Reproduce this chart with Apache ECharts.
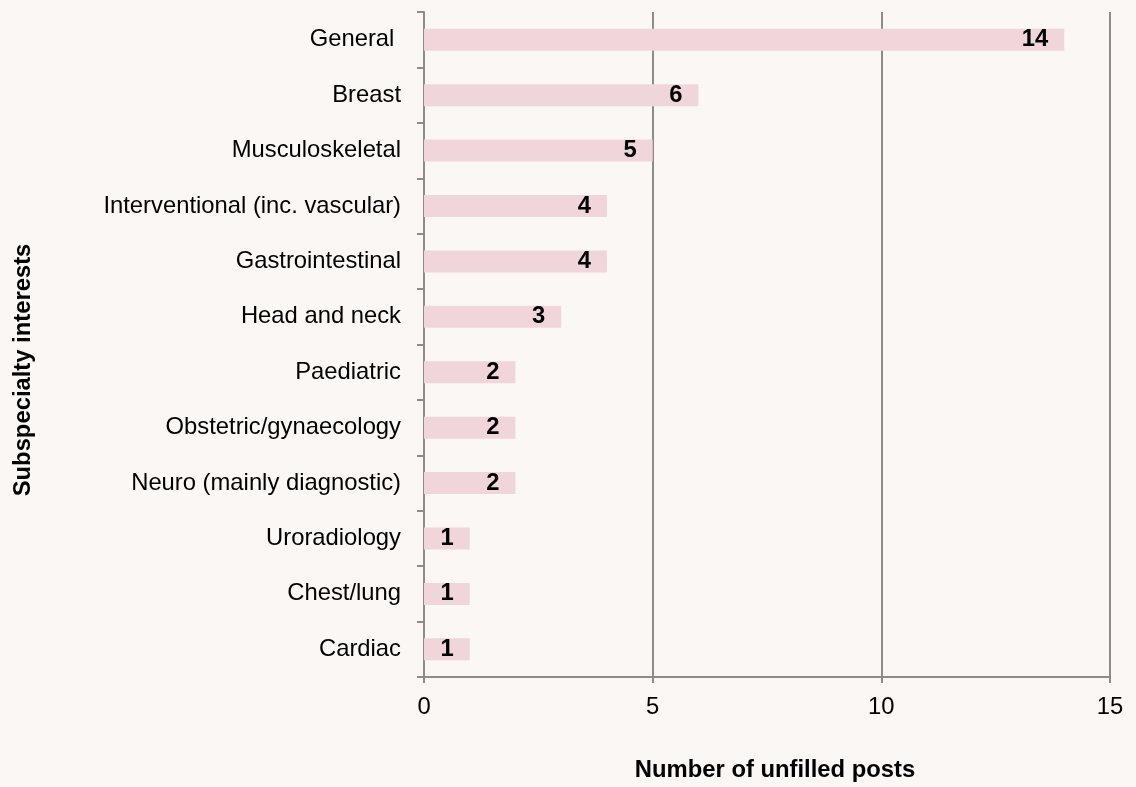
<!DOCTYPE html>
<html>
<head>
<meta charset="utf-8">
<script src="https://cdn.jsdelivr.net/npm/echarts@6/dist/echarts.min.js"></script>
<style>
  html, body { margin: 0; padding: 0; background: #faf7f4; }
  #chart { width: 1136px; height: 787px; }
</style>
</head>
<body>
<div id="chart"></div>
<script>
// Subspecialty categories, listed bottom to top
const categories = [
  'Cardiac', 'Chest/lung', 'Uroradiology', 'Neuro (mainly diagnostic)',
  'Obstetric/gynaecology', 'Paediatric', 'Head and neck', 'Gastrointestinal',
  'Interventional (inc. vascular)', 'Musculoskeletal', 'Breast', 'General '
];
const unfilledPosts = [1, 1, 1, 2, 2, 2, 3, 4, 4, 5, 6, 14];
const xTicks = [0, 5, 10, 15];

const font = 'Liberation Sans, Arial, sans-serif';
const fontSize = 23.8;
const grey = '#8c8c8c';

const chart = echarts.init(document.getElementById('chart'));
chart.setOption({
  backgroundColor: '#faf7f4',
  animation: false,
  grid: { left: 424, right: 26, top: 12, bottom: 109, containLabel: false },
  xAxis: {
    type: 'value',
    min: xTicks[0],
    max: xTicks[xTicks.length - 1],
    interval: 5,
    name: 'Number of unfilled posts',
    nameLocation: 'middle',
    nameGap: 81,
    nameTextStyle: {
      fontFamily: font, fontSize: fontSize, fontWeight: 'bold', color: '#000',
      padding: [0, 0, 0, 16]
    },
    axisLine: { show: true, lineStyle: { color: grey, width: 2 } },
    axisTick: { show: true, length: 6, lineStyle: { color: grey, width: 2 } },
    axisLabel: { fontFamily: font, fontSize: fontSize, color: '#000', margin: 18 },
    splitLine: { show: true, lineStyle: { color: grey, width: 2 } }
  },
  yAxis: {
    type: 'category',
    data: categories,
    axisLine: { show: true, lineStyle: { color: grey, width: 2 } },
    axisTick: { show: true, length: 7, lineStyle: { color: grey, width: 2 } },
    axisLabel: { fontFamily: font, fontSize: fontSize, color: '#000', margin: 23 },
    splitLine: { show: false }
  },
  graphic: [{
    type: 'text',
    x: 23,
    y: 370,
    rotation: Math.PI / 2,
    style: {
      text: 'Subspecialty interests',
      fontFamily: font,
      fontSize: fontSize,
      fontWeight: 'bold',
      fill: '#000',
      align: 'center',
      verticalAlign: 'middle'
    }
  }],
  series: [{
    type: 'bar',
    data: unfilledPosts,
    barWidth: 22,
    itemStyle: { color: '#f0d6db' },
    label: {
      show: true,
      position: 'insideRight',
      distance: 16,
      fontFamily: font,
      fontSize: fontSize,
      fontWeight: 'bold',
      color: '#000'
    }
  }]
});
</script>
</body>
</html>
